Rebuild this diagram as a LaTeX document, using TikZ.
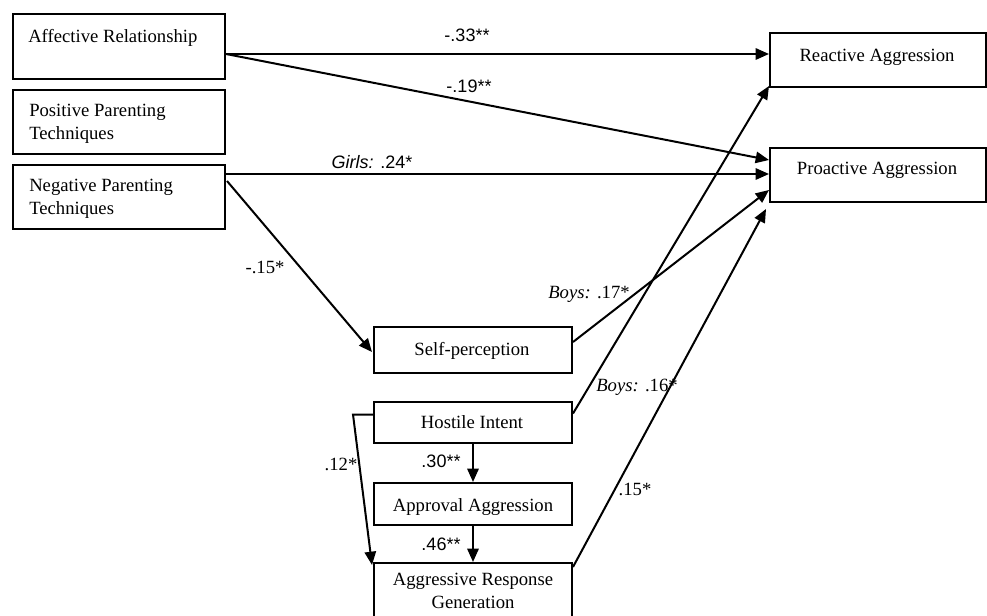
\documentclass[tikz,border=0pt]{standalone}
\usepackage{fontspec}
\setmainfont{Liberation Serif}
\newfontfamily\labsans{Liberation Sans}
\usetikzlibrary{arrows.meta,calc,fit}
\begin{document}
\begin{tikzpicture}[x=0.75pt,y=-0.75pt,
  box/.style={draw, line width=1.5pt, inner sep=0pt},
  boxtext/.style={font=\fontsize{14}{17.25}\selectfont, inner sep=0pt},
  lab/.style={font=\fontsize{14}{17}\selectfont, inner sep=0pt, anchor=base},
  slab/.style={font=\labsans\fontsize{13.5}{16}\selectfont, inner sep=0pt, anchor=base},
  arr/.style={line width=1.5pt, -{Triangle[length=10pt,width=8.5pt]}}]
\useasboundingbox (0,0) rectangle (987,616);
\fill[white] (0,0) rectangle (987,616);
\clip (0,0) rectangle (987,616);

% boxes
\node[box, fit={(13,14) (225,79)}] (aff) {};
\node[box, fit={(13,90) (225,154)}] (pos) {};
\node[box, fit={(13,165) (225,229)}] (neg) {};
\node[box, fit={(770,33) (986,87)}] (rea) {};
\node[box, fit={(770,148) (986,202)}] (pro) {};
\node[box, fit={(374,327) (572,373)}] (sel) {};
\node[box, fit={(374,402) (572,443)}] (hos) {};
\node[box, fit={(374,483) (572,525)}] (app) {};
\node[box, fit={(374,563) (572,650)}] (arg) {};

% box captions (multi-line captions are anchored on their last line)
\node[boxtext, anchor=base west] (aff-t) at (28,43) {Affective Relationship};
\node[boxtext, anchor=base west, align=left] (pos-t) at (29,140) {Positive Parenting\\Techniques};
\node[boxtext, anchor=base west, align=left] (neg-t) at (29,215) {Negative Parenting\\Techniques};
\node[boxtext, anchor=base] (rea-t) at (877,62) {Reactive Aggression};
\node[boxtext, anchor=base] (pro-t) at (877,175) {Proactive Aggression};
\node[boxtext, anchor=base] (sel-t) at (472,355) {Self-perception};
\node[boxtext, anchor=base] (hos-t) at (472,428) {Hostile Intent};
\node[boxtext, anchor=base] (app-t) at (473,511) {Approval Aggression};
\node[boxtext, anchor=base, align=center] (arg-t) at (473,608) {Aggressive Response\\Generation};

% paths
\draw[arr] ($(aff.north east)+(0,41)$) coordinate (affout) -- (affout -| rea.west);
\draw[arr] (affout) -- ($(pro.north west)+(0,13)$);
\draw[arr] ($(neg.north east)+(0,10)$) coordinate (negout) -- (negout -| pro.west);
\draw[arr] ($(neg.north east)+(1,17)$) -- ($(sel.west)+(-1,2)$);
\draw[arr] ($(sel.east)+(0,-8)$) -- ($(pro.west)+(0,15)$);
\draw[arr] ($(hos.east)+(0,-9)$) -- ($(rea.south west)+(0,-2)$);
\draw[arr] ($(arg.north east)+(0,5)$) -- ($(pro.south west)+(-3,6)$);
\draw[arr] (hos.south) -- (app.north);
\draw[arr] (app.south) -- (arg.north);
\draw[arr] ($(hos.west)+(0,-8)$) -- ++(-20,0) -- ($(arg.north west)+(-1,3)$);

% coefficients
\node[slab] (c-aff-rea) at (467,42) {-.33**};
\node[slab] (c-aff-pro) at (469,93) {-.19**};
\node[slab] (c-neg-pro) at (372,169) {\textit{Girls:} .24*};
\node[lab] (c-neg-sel) at (265,273) {-.15*};
\node[lab] (c-sel-pro) at (589,298) {\textit{Boys:} .17*};
\node[lab] (c-hos-rea) at (637,391) {\textit{Boys:} .16*};
\node[lab] (c-hos-arg) at (341,470) {.12*};
\node[slab] (c-hos-app) at (441,467) {.30**};
\node[slab] (c-app-arg) at (441,550) {.46**};
\node[lab] (c-arg-pro) at (635,495) {.15*};
\end{tikzpicture}
\end{document}
